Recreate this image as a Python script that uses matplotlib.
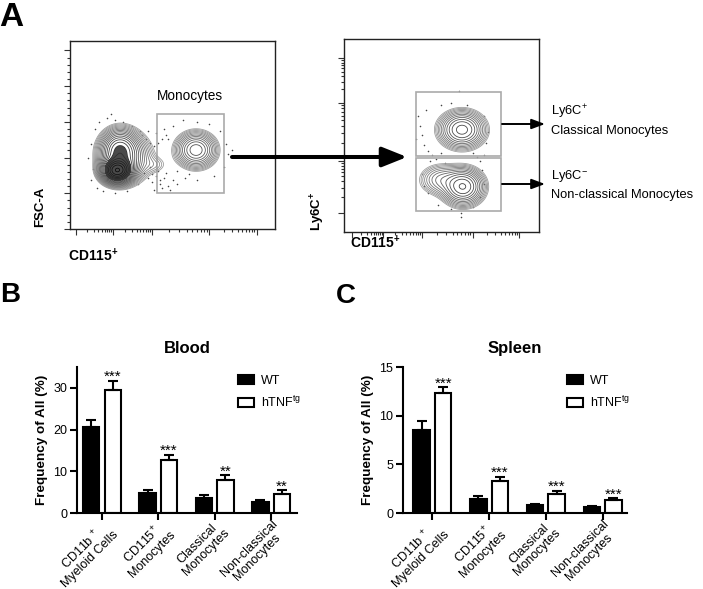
import numpy as np
import matplotlib.pyplot as plt
from matplotlib.patches import Rectangle

plt.rcParams['font.family'] = ['Liberation Sans', 'DejaVu Sans']
plt.rcParams['mathtext.fontset'] = 'custom'
plt.rcParams['mathtext.rm'] = 'Liberation Sans'
plt.rcParams['mathtext.it'] = 'Liberation Sans:italic'
plt.rcParams['mathtext.bf'] = 'Liberation Sans:bold'

## Bar chart data
groups = ['CD11b $^{+}$\nMyeloid Cells', 'CD115$^{+}$\nMonocytes',
          'Classical\nMonocytes', 'Non-classical\nMonocytes']
blood_wt = [20.5, 4.8, 3.5, 2.6]
blood_wt_err = [1.9, 0.6, 0.7, 0.6]
blood_tg = [29.5, 12.6, 7.8, 4.6]
blood_tg_err = [2.2, 1.4, 1.2, 0.8]
blood_stars = ['***', '***', '**', '**']

spleen_wt = [8.5, 1.45, 0.8, 0.6]
spleen_wt_err = [0.95, 0.25, 0.12, 0.1]
spleen_tg = [12.3, 3.3, 2.0, 1.3]
spleen_tg_err = [0.65, 0.45, 0.28, 0.25]
spleen_stars = ['***', '***', '***', '***']

## Flow plot populations (centre, spread, weight in % of axis)
left_pop_cx = [23.0, 24.0, 27.0, 61.5, 42.0]
left_pop_cy = [31.0, 42.0, 38.0, 42.0, 34.0]
left_pop_sx = [4.0, 5.0, 7.5, 5.8, 4.0]
left_pop_sy = [3.5, 6.0, 8.0, 5.6, 3.0]
left_pop_w = [4.0, 1.2, 0.7, 0.9, 0.12]
left_dots_x = [14, 18, 22, 26, 30, 20, 12, 10, 9, 11, 10, 13, 16, 22, 28, 36, 38, 40, 42, 44, 46, 48,
               50, 39, 43, 47, 41, 45, 49, 52, 35, 37, 39, 41, 43, 45, 47, 38, 42, 46, 50, 55, 62,
               68, 73, 76, 77, 75, 70, 62, 56, 52, 48, 58, 79, 33, 34, 44, 40]
left_dots_y = [57, 59, 58, 57, 55, 61, 53, 45, 38, 32, 26, 22, 20, 19, 20, 30, 27, 25, 28, 24, 27, 23,
               26, 33, 31, 30, 21, 22, 21, 24, 50, 48, 46, 44, 46, 48, 50, 52, 51, 53, 55, 58, 57,
               56, 52, 45, 40, 33, 28, 26, 27, 31, 48, 29, 42, 24, 52, 26, 29]

right_pop_cx = [60.5, 61.0, 50.0]
right_pop_cy = [53.0, 23.5, 27.0]
right_pop_sx = [5.5, 5.0, 5.5]
right_pop_sy = [4.5, 4.5, 4.0]
right_pop_w = [1.0, 1.2, 0.3]
right_dots_x = [38, 39, 40, 41, 42, 43, 37, 55, 59, 63, 50, 72, 74, 73, 45, 47, 44, 50, 68, 70, 66,
                72, 52, 40, 41, 43, 48, 55, 60, 66, 70, 72, 71, 60]
right_dots_y = [60, 55, 50, 45, 63, 42, 48, 67, 73, 66, 66, 60, 52, 46, 40, 38, 37, 41, 39, 37, 41,
                40, 36, 30, 24, 20, 14, 12, 10, 13, 18, 25, 32, 8]

W, H = 703, 589
fig = plt.figure(figsize=(W / 100, H / 100), dpi=100)


def px_axes(x0, y0, x1, y1):
    return fig.add_axes([x0 / W, 1 - y1 / H, (x1 - x0) / W, (y1 - y0) / H])


def log_minor(majors):
    out = []
    for a, b in zip(majors[:-1], majors[1:]):
        out += [a + (b - a) * np.log10(k) for k in range(2, 10)]
    return out


def density(cx, cy, sx, sy, w):
    g = np.linspace(0, 100, 301)
    X, Y = np.meshgrid(g, g)
    Z = np.zeros_like(X)
    for a, b, c, d, e in zip(cx, cy, sx, sy, w):
        Z += e * np.exp(-((X - a) ** 2 / (2 * c ** 2) + (Y - b) ** 2 / (2 * d ** 2)))
    return X, Y, Z


def flow_plot(ax, pops, dots, xmaj, ymaj, ylog, lo, hi, n, shade, core=None):
    X, Y, Z = density(*pops)
    levels = np.geomspace(lo, hi, n) * Z.max()
    greys = np.interp(np.log(levels), [np.log(levels[0]), np.log(levels[-1])], shade)
    if core is not None:
        ax.contourf(X, Y, Z, levels=[core * Z.max(), Z.max()], colors=['#2a2a2a'], alpha=0.85)
    ax.contour(X, Y, Z, levels=levels, colors=[str(g) for g in greys], linewidths=0.6)
    ax.scatter(dots[0], dots[1], s=1.3, color='#444444', lw=0)
    ax.set_xlim(0, 100)
    ax.set_ylim(0, 100)
    ax.set_xticks(xmaj)
    ax.set_xticks(log_minor(xmaj), minor=True)
    ax.set_yticks(ymaj)
    if ylog:
        ax.set_yticks(log_minor(ymaj), minor=True)
    else:
        ax.set_yticks([a + (b - a) * k / 5 for a, b in zip(ymaj[:-1], ymaj[1:]) for k in range(1, 5)],
                      minor=True)
    ax.tick_params(which='both', direction='out', labelbottom=False, labelleft=False,
                   width=0.8, color='#333333')
    ax.tick_params(which='major', length=4)
    ax.tick_params(which='minor', length=2.2)
    for s in ax.spines.values():
        s.set_linewidth(1.0)
        s.set_color('#222222')


## Panel A
ax1 = px_axes(70, 41, 275, 229)
flow_plot(ax1, (left_pop_cx, left_pop_cy, left_pop_sx, left_pop_sy, left_pop_w),
          (left_dots_x, left_dots_y), [3, 21, 40, 68, 91], [0, 19, 38, 57, 76, 95], False,
          0.025, 0.97, 22, [0.62, 0.05], core=0.35)
ax1.add_patch(Rectangle((42.4, 19.1), 32.7, 42.1, fill=False, ec='#aaaaaa', lw=1.2))

ax2 = px_axes(344, 39, 539, 232)
flow_plot(ax2, (right_pop_cx, right_pop_cy, right_pop_sx, right_pop_sy, right_pop_w),
          (right_dots_x, right_dots_y), [4, 20, 40, 66, 90], [10, 37, 67, 90], True,
          0.03, 0.95, 13, [0.62, 0.25])
ax2.add_patch(Rectangle((37, 39.4), 43.5, 33.1, fill=False, ec='#aaaaaa', lw=1.2))
ax2.add_patch(Rectangle((37, 10.9), 43.5, 27.4, fill=False, ec='#aaaaaa', lw=1.2))


## Bar charts
def bar_panel(ax, wt, wt_err, tg, tg_err, stars, title, ymax, yticks, xlim):
    x = np.arange(len(groups))
    bw, off = 0.29, 0.19
    ekw = dict(elinewidth=1.5, capthick=1.5, ecolor='black')
    ax.bar(x - off, wt, width=bw, color='black', edgecolor='black', linewidth=1.5,
           yerr=[np.zeros(len(wt)), wt_err], capsize=3.5, error_kw=ekw, label='WT')
    ax.bar(x + off, tg, width=bw, color='white', edgecolor='black', linewidth=1.5,
           yerr=[np.zeros(len(tg)), tg_err], capsize=3.5, error_kw=ekw,
           label='hTNF$^{\\mathregular{tg}}$')
    for i, s in enumerate(stars):
        ax.annotate(s, (x[i] + off, tg[i] + tg_err[i]), xytext=(0, -2.5), textcoords='offset points',
                    ha='center', va='bottom', fontsize=11)
    ax.set_xlim(*xlim)
    ax.set_ylim(0, ymax)
    ax.set_yticks(yticks)
    ax.set_xticks(x)
    ax.set_xticklabels(groups, rotation=45, ha='right', va='top', rotation_mode='anchor',
                       multialignment='center', fontsize=8.4, linespacing=1.0)
    ax.tick_params(direction='out', length=5, width=1.5, labelsize=9)
    ax.tick_params(axis='x', pad=-1.5)
    ax.tick_params(axis='y', pad=2)
    ax.spines['top'].set_visible(False)
    ax.spines['right'].set_visible(False)
    ax.spines['left'].set_linewidth(1.5)
    ax.spines['bottom'].set_linewidth(1.5)
    ax.set_ylabel('Frequency of All (%)', fontsize=9.7, fontweight='bold', labelpad=4)
    ax.set_title(title, fontsize=12, fontweight='bold', pad=10)
    ax.legend(loc='upper left', bbox_to_anchor=(0.73, 0.945), frameon=False, fontsize=9,
              handlelength=1.3, handleheight=0.75, handletextpad=0.6, labelspacing=0.6,
              borderpad=0, borderaxespad=0)


axb = px_axes(77, 367, 297, 513)
bar_panel(axb, blood_wt, blood_wt_err, blood_tg, blood_tg_err, blood_stars, 'Blood',
          35, [0, 10, 20, 30], (-0.444, 3.46))
axc = px_axes(403, 367, 627, 513)
bar_panel(axc, spleen_wt, spleen_wt_err, spleen_tg, spleen_tg_err, spleen_stars, 'Spleen',
          15, [0, 5, 10, 15], (-0.52, 3.43))

## Overlay for labels and arrows (pixel coordinates)
ov = fig.add_axes([0, 0, 1, 1])
ov.set_xlim(0, W)
ov.set_ylim(H, 0)
ov.axis('off')

ov.text(-1, 26, 'A', fontsize=24, fontweight='bold', va='baseline')
ov.text(0, 302, 'B', fontsize=20, fontweight='bold', va='baseline')
ov.text(336, 303, 'C', fontsize=20, fontweight='bold', va='baseline')

ov.text(40, 207, 'FSC-A', rotation=90, ha='center', va='center', fontsize=9.5, fontweight='bold')
ov.text(68, 256, 'CD115$^{\\mathbf{+}}$', ha='left', va='center', fontsize=10, fontweight='bold')
ov.text(318, 211, 'Ly6C$^{\\mathbf{+}}$', rotation=90, ha='center', va='center', fontsize=9.5,
        fontweight='bold')
ov.text(350, 243, 'CD115$^{\\mathbf{+}}$', ha='left', va='center', fontsize=10, fontweight='bold')
ov.text(190, 96, 'Monocytes', ha='center', va='center', fontsize=9.8)

ov.text(551, 112, 'Ly6C$^{+}$', ha='left', va='center', fontsize=9.3)
ov.text(551, 131, 'Classical Monocytes', ha='left', va='center', fontsize=9.3)
ov.text(551, 176, 'Ly6C$^{-}$', ha='left', va='center', fontsize=9.3)
ov.text(551, 195, 'Non-classical Monocytes', ha='left', va='center', fontsize=9.3)

ov.annotate('', xy=(407, 157), xytext=(232, 157),
            arrowprops=dict(arrowstyle='-|>,head_length=1.5,head_width=0.6', lw=2.9,
                            color='black', shrinkA=0, shrinkB=0, mutation_scale=10))
for yy in [124, 184]:
    ov.annotate('', xy=(545, yy), xytext=(502, yy),
                arrowprops=dict(arrowstyle='-|>,head_length=0.8,head_width=0.3', lw=1.4,
                                color='black', shrinkA=0, shrinkB=0, mutation_scale=10))

fig.savefig('out.png', dpi=100)
